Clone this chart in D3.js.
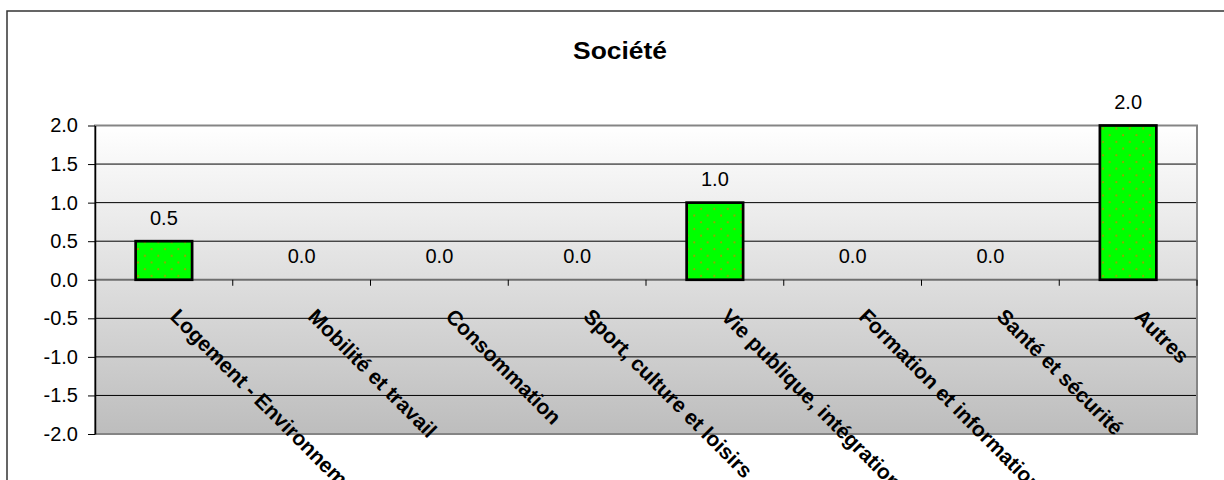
<!DOCTYPE html>
<html>
<head>
<meta charset="utf-8">
<script src="https://cdn.jsdelivr.net/npm/d3@7"></script>
<style>
    body { margin: 0; background: #ffffff; }
    text { font-family: Arial, "Liberation Sans", sans-serif; }
</style>
</head>
<body>
<svg id="drawing_region"></svg>
<script>
var categories = [
    "Logement - Environnement",
    "Mobilité et travail",
    "Consommation",
    "Sport, culture et loisirs",
    "Vie publique, intégration",
    "Formation et information",
    "Santé et sécurité",
    "Autres"
];
var values = [0.5, 0.0, 0.0, 0.0, 1.0, 0.0, 0.0, 2.0];
var yTicks = [-2.0, -1.5, -1.0, -0.5, 0.0, 0.5, 1.0, 1.5, 2.0];
var title = "Société";

class BarChart {

    constructor( config, cats, vals, ticks ) {
        this.config = {
            parent: config.parent,
            width: config.width || 256,
            height: config.height || 256,
            margin: config.margin || {top:20, right:20, bottom:20, left:20}
        }
        this.cats = cats;
        this.vals = vals;
        this.ticks = ticks;
        this.data = cats.map((c, i) => ({cat: c, val: vals[i]}));
        this.init();
    }

    init() {
        let self = this;

        self.svg = d3.select( self.config.parent )
            .attr('width', self.config.width)
            .attr('height', self.config.height);

        // outer chart frame (runs off the picture on right and bottom)
        self.svg.append('rect')
            .attr('x', 7).attr('y', 11)
            .attr('width', 1260).attr('height', 520)
            .attr('fill', 'none')
            .attr('stroke', '#333')
            .attr('stroke-width', 1.5);

        self.svg.append('text')
            .attr('x', 620).attr('y', 59)
            .attr('text-anchor', 'middle')
            .attr('font-size', 24)
            .attr('font-weight', 'bold')
            .attr('transform', 'translate(620,0) scale(1.1,1) translate(-620,0)')
            .text(title);

        self.chart = self.svg.append('g')
            .attr('transform', `translate(${self.config.margin.left}, ${self.config.margin.top})`);

        self.inner_width = self.config.width - self.config.margin.left - self.config.margin.right;
        self.inner_height = self.config.height - self.config.margin.top - self.config.margin.bottom;

        const defs = self.svg.append('defs');
        const grad = defs.append('linearGradient')
            .attr('id', 'bg')
            .attr('x1', 0).attr('y1', 0).attr('x2', 0).attr('y2', 1);
        grad.append('stop').attr('offset', '0%').attr('stop-color', '#ffffff');
        grad.append('stop').attr('offset', '100%').attr('stop-color', '#bdbdbd');

        // green bars with a small dotted pattern
        const pat = defs.append('pattern')
            .attr('id', 'dots')
            .attr('patternUnits', 'userSpaceOnUse')
            .attr('width', 13.4).attr('height', 13.4);
        pat.append('rect').attr('width', 13.4).attr('height', 13.4).attr('fill', '#00ff00');
        pat.append('circle').attr('cx', 3).attr('cy', 3).attr('r', 1).attr('fill', '#a89a00');
        pat.append('circle').attr('cx', 9.7).attr('cy', 9.7).attr('r', 1).attr('fill', '#a89a00');

        self.xscale = d3.scaleBand()
            .domain(self.cats)
            .range([0, self.inner_width])
            .paddingInner(0)
            .paddingOuter(0);

        self.yscale = d3.scaleLinear()
            .domain([d3.min(self.ticks), d3.max(self.ticks)])
            .range([self.inner_height, 0]);

        self.yaxis = d3.axisLeft( self.yscale )
            .tickValues(self.ticks)
            .tickFormat(d => d.toFixed(1))
            .tickSize(7)
            .tickPadding(10)
            .tickSizeOuter(0);
    }

    render() {
        let self = this;

        self.chart.append('rect')
            .attr('width', self.inner_width)
            .attr('height', self.inner_height)
            .attr('fill', 'url(#bg)');

        // gridlines
        self.chart.selectAll('.grid')
            .data(self.ticks.filter(d => d != 0 && d != d3.min(self.ticks) && d != d3.max(self.ticks)))
            .enter()
            .append('line')
            .attr('x1', 0).attr('x2', self.inner_width)
            .attr('y1', d => self.yscale(d)).attr('y2', d => self.yscale(d))
            .attr('stroke', '#000')
            .attr('stroke-width', 1);

        // plot border
        self.chart.append('rect')
            .attr('width', self.inner_width)
            .attr('height', self.inner_height)
            .attr('fill', 'none')
            .attr('stroke', '#858585')
            .attr('stroke-width', 2);

        // zero axis with category ticks
        const y0 = self.yscale(0);
        self.chart.append('line')
            .attr('x1', 0).attr('x2', self.inner_width)
            .attr('y1', y0).attr('y2', y0)
            .attr('stroke', '#6e6e6e')
            .attr('stroke-width', 2);

        self.chart.selectAll('.ctick')
            .data(self.cats)
            .enter()
            .append('line')
            .attr('x1', d => self.xscale(d) + self.xscale.bandwidth())
            .attr('x2', d => self.xscale(d) + self.xscale.bandwidth())
            .attr('y1', y0).attr('y2', y0 + 6)
            .attr('stroke', '#000')
            .attr('stroke-width', 1);

        // bars
        const bw = self.xscale.bandwidth() * 0.41;
        self.chart.selectAll('.bar')
            .data(self.data.filter(d => d.val != 0))
            .enter()
            .append('rect')
            .attr('x', d => self.xscale(d.cat) + (self.xscale.bandwidth() - bw) / 2)
            .attr('y', d => self.yscale(Math.max(0, d.val)))
            .attr('width', bw)
            .attr('height', d => Math.abs(self.yscale(d.val) - y0))
            .attr('fill', 'url(#dots)')
            .attr('stroke', '#000')
            .attr('stroke-width', 2.7);

        // value labels
        self.chart.selectAll('.vlabel')
            .data(self.data)
            .enter()
            .append('text')
            .attr('x', d => self.xscale(d.cat) + self.xscale.bandwidth() / 2)
            .attr('y', d => self.yscale(Math.max(0, d.val)) - 16.5)
            .attr('text-anchor', 'middle')
            .attr('font-size', 20)
            .attr('fill', '#000')
            .text(d => d.val.toFixed(1));

        // category labels rotated 45 degrees
        self.chart.selectAll('.clabel')
            .data(self.cats)
            .enter()
            .append('text')
            .attr('transform', d => `translate(${self.xscale(d) + self.xscale.bandwidth() / 2 + 5}, ${y0 + 38}) rotate(45)`)
            .attr('font-size', 21)
            .attr('font-weight', 'bold')
            .attr('fill', '#000')
            .text(d => d);

        // y axis
        const yg = self.chart.append('g').call( self.yaxis );
        yg.select('.domain').attr('stroke', '#000').attr('stroke-width', 1.5);
        yg.selectAll('.tick line').attr('stroke', '#000');
        yg.selectAll('.tick text')
            .attr('font-size', 20)
            .attr('font-family', 'Arial, "Liberation Sans", sans-serif')
            .attr('fill', '#000');
    }
}

var config = {
    parent: '#drawing_region',
    width: 1224,
    height: 480,
    margin: {top:125.5, right:27, bottom:46, left:95}
};

const bar_chart = new BarChart( config, categories, values, yTicks );
bar_chart.render();
</script>
</body>
</html>
